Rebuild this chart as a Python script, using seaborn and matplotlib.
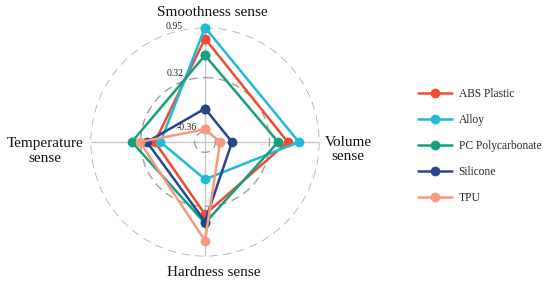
import numpy as np
import pandas as pd
import matplotlib
matplotlib.use("Agg")
import matplotlib.pyplot as plt
import matplotlib.transforms as mtrans
import seaborn as sns

sns.set_style("white")
plt.rcParams['font.family'] = ['Liberation Serif', 'DejaVu Serif']

categories = ["Smoothness sense", "Volume sense", "Hardness sense", "Temperature sense"]
materials = ["ABS Plastic", "Alloy", "PC Polycarbonate", "Silicone", "TPU"]
abs_plastic = [0.81, 0.55, 0.42, 0.14]
alloy = [0.95, 0.69, -0.02, 0.07]
pc_poly = [0.60, 0.43, 0.53, 0.43]
silicone = [-0.07, -0.15, 0.51, 0.24]
tpu = [-0.33, -0.30, 0.75, 0.33]
rticks = [-0.36, 0.32, 0.95]
rtick_labels = ["-0.36", "0.32", "0.95"]
colors = ["#F24A33", "#1DBBD6", "#12A07E", "#27478A", "#F9987D"]

series = [abs_plastic, alloy, pc_poly, silicone, tpu]
angles = np.linspace(0, 2 * np.pi, len(categories), endpoint=False)
rows = []
for m, vals in zip(materials, series):
    for i in range(len(categories) + 1):
        k = i % len(categories)
        th = angles[k] if i < len(categories) else 2 * np.pi
        rows.append({"material": m, "theta": th, "value": vals[k], "order": i})
df = pd.DataFrame(rows)

fig = plt.figure(figsize=(5.5, 2.84), dpi=100)
W, H = 550, 284
cx, cy, R = 205, 142, 114.5
ax = fig.add_axes([(cx - R) / W, (H - cy - R) / H, 2 * R / W, 2 * R / H], projection="polar")
ax.set_theta_offset(np.pi / 2)
ax.set_theta_direction(-1)

sns.lineplot(data=df, x="theta", y="value", hue="material", hue_order=materials,
             palette=colors, marker="o", markersize=7, markeredgewidth=0,
             linewidth=1.8, sort=False, estimator=None, units="material",
             ax=ax, legend=True, clip_on=False)

ax.set_ylim(-0.49, 0.95)
ax.set_xticks(angles)
ax.set_xticklabels([])
ax.set_yticks(rticks)
ax.set_yticklabels([])
ax.set_xlabel("")
ax.set_ylabel("")
ax.spines["polar"].set_visible(False)
ax.xaxis.grid(True, color="#c8c8c8", linewidth=1.0, linestyle="-")
ax.yaxis.grid(True, color="#a0a0a0", linewidth=1.0, linestyle=(0, (6, 4)))
for ln in ax.lines:
    ln.set_clip_on(False)

# pixel offsets of each radial tick label from its circle's crossing with the top axis
label_offsets = [(-18, 4), (-29.5, 4), (-31, 1)]
for v, lab, (dx, dy) in zip(rticks, rtick_labels, label_offsets):
    off = mtrans.ScaledTranslation(dx / 100, dy / 100, fig.dpi_scale_trans)
    ax.text(0, v, lab, transform=ax.transData + off, ha="center", va="center",
            fontsize=7, color="#222222")

def ft(x, y, s, **kw):
    fig.text(x / W, 1 - y / H, s, ha="center", va="center", fontsize=11,
             color="#111111", linespacing=1.1, **kw)

ft(212, 12, "Smoothness sense")
ft(214, 272, "Hardness sense")
ft(45, 151, "Temperature\nsense")
ft(348, 150, "Volume\nsense")

handles, labels = ax.get_legend_handles_labels()
ax.get_legend().remove()
fig.legend(handles, labels, loc="upper left", bbox_to_anchor=(408 / W, 1 - 78 / H),
           frameon=False, fontsize=8.3, handlelength=2.9, handletextpad=0.6,
           labelspacing=1.2)

fig.savefig("out.png", dpi=100)
